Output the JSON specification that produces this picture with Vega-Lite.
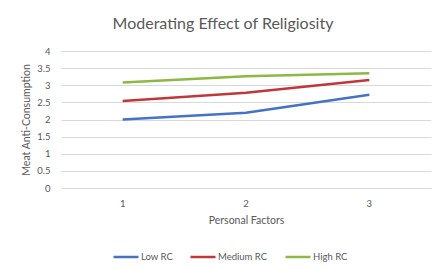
{
  "$schema": "https://vega.github.io/schema/vega-lite/v6.json",
  "autosize": "none",
  "width": 370,
  "height": 137,
  "padding": {"left": 61, "top": 51, "right": 16, "bottom": 81},
  "background": "white",
  "title": {
    "text": "Moderating Effect of Religiosity",
    "font": "Lato",
    "fontSize": 16,
    "fontWeight": "normal",
    "color": "#595959",
    "anchor": "middle",
    "dx": -23,
    "offset": 14
  },
  "data": {
    "values": [
      {"factor": "1", "group": "Low RC", "value": 2.0},
      {"factor": "2", "group": "Low RC", "value": 2.2},
      {"factor": "3", "group": "Low RC", "value": 2.72},
      {"factor": "1", "group": "Medium RC", "value": 2.54},
      {"factor": "2", "group": "Medium RC", "value": 2.78},
      {"factor": "3", "group": "Medium RC", "value": 3.15},
      {"factor": "1", "group": "High RC", "value": 3.08},
      {"factor": "2", "group": "High RC", "value": 3.26},
      {"factor": "3", "group": "High RC", "value": 3.35}
    ]
  },
  "mark": {"type": "line", "strokeWidth": 2.5},
  "encoding": {
    "x": {
      "field": "factor",
      "type": "ordinal",
      "scale": {"type": "band"},
      "axis": {
        "title": "Personal Factors",
        "labelAngle": 0,
        "ticks": false,
        "domain": true,
        "domainColor": "#d9d9d9",
        "grid": false,
        "labelPadding": 10,
        "titlePadding": 8
      }
    },
    "y": {
      "field": "value",
      "type": "quantitative",
      "scale": {"domain": [0, 4]},
      "axis": {
        "title": "Meat Anti-Consumption",
        "values": [0, 0.5, 1, 1.5, 2, 2.5, 3, 3.5, 4],
        "format": "~g",
        "ticks": false,
        "domain": false,
        "gridColor": "#d9d9d9",
        "labelPadding": 11,
        "titlePadding": 5
      }
    },
    "color": {
      "field": "group",
      "type": "nominal",
      "sort": ["Low RC", "Medium RC", "High RC"],
      "scale": {
        "domain": ["Low RC", "Medium RC", "High RC"],
        "range": ["#4472C4", "#C0373A", "#8CB843"]
      },
      "legend": {
        "title": null,
        "orient": "none",
        "direction": "horizontal",
        "legendX": 51,
        "legendY": 192,
        "symbolType": "stroke",
        "symbolSize": 625,
        "symbolStrokeWidth": 2.5,
        "labelOffset": 1,
        "columnPadding": 12
      }
    }
  },
  "config": {
    "font": "Lato",
    "view": {"stroke": null},
    "axis": {
      "labelFont": "Lato",
      "titleFont": "Lato",
      "labelFontSize": 9.5,
      "titleFontSize": 10.5,
      "titleFontWeight": "normal",
      "labelColor": "#595959",
      "titleColor": "#595959"
    },
    "legend": {
      "labelFont": "Lato",
      "labelFontSize": 9.5,
      "labelColor": "#595959"
    }
  }
}
